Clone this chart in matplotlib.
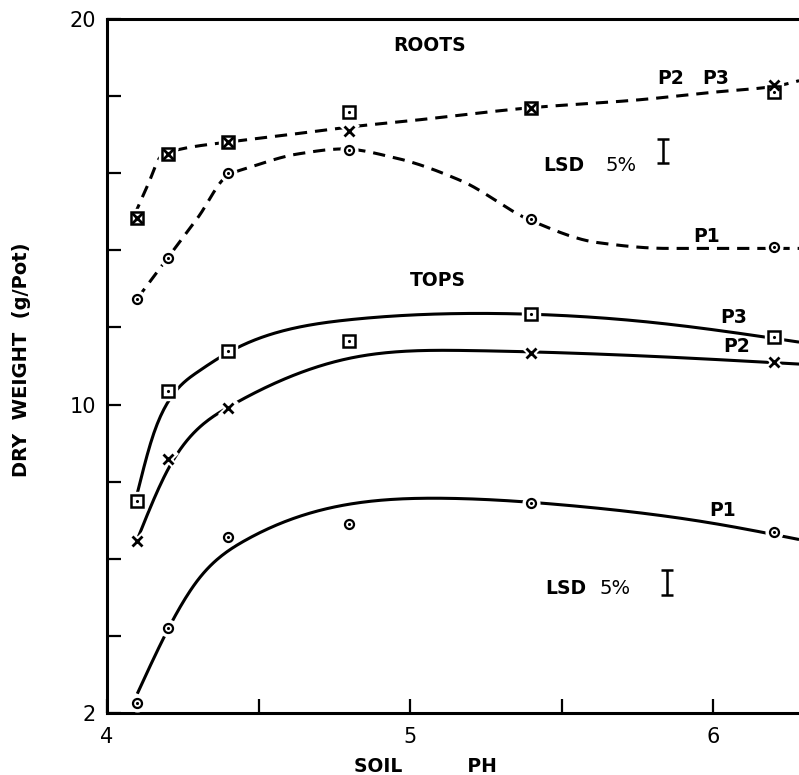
import numpy as np
import matplotlib
matplotlib.use('Agg')
import matplotlib.pyplot as plt

# soil pH of the pots
ph = [4.1, 4.2, 4.4, 4.8, 5.4, 6.2]

# dry weight (g/pot)
roots_p1 = [12.75, 13.8, 16.0, 16.6, 14.8, 14.08]
roots_p2 = [14.85, 16.5, 16.8, 17.1, 17.7, 18.3]
roots_p3 = [14.85, 16.5, 16.8, 17.6, 17.7, 18.1]
tops_p1 = [2.26, 4.2, 6.56, 6.9, 7.45, 6.7]
tops_p2 = [6.45, 8.6, 9.9, np.nan, 11.35, 11.1]
tops_p3 = [7.5, 10.35, 11.4, 11.65, 12.35, 11.74]

# hand drawn trend curves (knots)
roots_hi_x = [4.09, 4.135, 4.18, 4.24, 4.4, 4.6, 4.8, 5.0, 5.4, 5.75, 6.0, 6.2, 6.284]
roots_hi_y = [14.9, 15.7, 16.45, 16.62, 16.81, 17.0, 17.2, 17.36, 17.7, 17.9, 18.1, 18.25, 18.4]
roots_p1_x = [4.1, 4.2, 4.3, 4.4, 4.47, 4.63, 4.78, 4.95, 5.17, 5.4, 5.62, 5.85, 6.2, 6.284]
roots_p1_y = [12.75, 13.8, 14.85, 15.95, 16.15, 16.5, 16.63, 16.4, 15.8, 14.77, 14.2, 14.05, 14.05, 14.05]
tops_p3_x = [4.1, 4.15, 4.2, 4.3, 4.4, 4.6, 4.8, 5.3, 5.8, 6.284]
tops_p3_y = [7.7, 9.15, 10.05, 10.85, 11.35, 11.95, 12.2, 12.36, 12.13, 11.62]
tops_p2_x = [4.1, 4.2, 4.4, 4.8, 5.2, 5.8, 6.284]
tops_p2_y = [6.5, 8.3, 9.93, 11.2, 11.4, 11.25, 11.05]
tops_p1_x = [4.1, 4.2, 4.3, 4.45, 4.7, 5.1, 5.5, 6.0, 6.284]
tops_p1_y = [2.5, 4.15, 5.45, 6.45, 7.25, 7.57, 7.4, 6.92, 6.5]

# least significant differences (5%)
lsd_roots = 0.62
lsd_tops = 0.65


def pchip(x, y, xn):
    # monotone cubic through the knots, keeps the sharp bends
    x = np.asarray(x, float)
    y = np.asarray(y, float)
    h = np.diff(x)
    dl = np.diff(y) / h
    n = len(x)
    d = np.zeros(n)
    for k in range(1, n - 1):
        if dl[k - 1] * dl[k] > 0:
            w1 = 2 * h[k] + h[k - 1]
            w2 = h[k] + 2 * h[k - 1]
            d[k] = (w1 + w2) / (w1 / dl[k - 1] + w2 / dl[k])
    for i, (a, b, ha, hb) in enumerate([(dl[0], dl[1], h[0], h[1]), (dl[-1], dl[-2], h[-1], h[-2])]):
        e = ((2 * ha + hb) * a - ha * b) / (ha + hb)
        if np.sign(e) != np.sign(a):
            e = 0.0
        elif np.sign(a) != np.sign(b) and abs(e) > abs(3 * a):
            e = 3 * a
        d[0 if i == 0 else -1] = e
    idx = np.clip(np.searchsorted(x, xn) - 1, 0, n - 2)
    t = (xn - x[idx]) / h[idx]
    h00 = 2 * t**3 - 3 * t**2 + 1
    h10 = t**3 - 2 * t**2 + t
    h01 = -2 * t**3 + 3 * t**2
    h11 = t**3 - t**2
    return h00 * y[idx] + h10 * h[idx] * d[idx] + h01 * y[idx + 1] + h11 * h[idx] * d[idx + 1]


def spline(x, y, xn):
    # natural cubic spline, smoother for the tops curves
    x = np.asarray(x, float)
    y = np.asarray(y, float)
    n = len(x)
    h = np.diff(x)
    A = np.zeros((n, n))
    r = np.zeros(n)
    A[0, 0] = 1
    A[-1, -1] = 1
    for i in range(1, n - 1):
        A[i, i - 1] = h[i - 1]
        A[i, i] = 2 * (h[i - 1] + h[i])
        A[i, i + 1] = h[i]
        r[i] = 3 * ((y[i + 1] - y[i]) / h[i] - (y[i] - y[i - 1]) / h[i - 1])
    c = np.linalg.solve(A, r)
    b = (y[1:] - y[:-1]) / h - h * (2 * c[:-1] + c[1:]) / 3
    d = (c[1:] - c[:-1]) / (3 * h)
    idx = np.clip(np.searchsorted(x, xn) - 1, 0, n - 2)
    dx = xn - x[idx]
    return y[idx] + b[idx] * dx + c[idx] * dx**2 + d[idx] * dx**3


def curve(ax, kx, ky, ls, fn):
    xn = np.linspace(kx[0], kx[-1], 400)
    ax.plot(xn, fn(kx, ky, xn), color='black', lw=2.2, ls=ls, zorder=2,
            solid_capstyle='butt', dash_capstyle='butt', clip_on=False)


def marks(ax, x, y, kind):
    if kind == 'o':
        ax.plot(x, y, 'o', ms=12, color='white', mec='white', ls='none', zorder=3)
        ax.plot(x, y, 'o', ms=6.5, mfc='white', mec='black', mew=1.6, ls='none', zorder=4)
        ax.plot(x, y, '.', ms=2.5, color='black', ls='none', zorder=5)
    elif kind == 's':
        ax.plot(x, y, 's', ms=13, color='white', mec='white', ls='none', zorder=3)
        ax.plot(x, y, 's', ms=8, mfc='white', mec='black', mew=1.8, ls='none', zorder=4)
        ax.plot(x, y, '.', ms=2.5, color='black', ls='none', zorder=5)
    else:
        ax.plot(x, y, 'x', ms=11, color='white', mew=5, ls='none', zorder=3)
        ax.plot(x, y, 'x', ms=7, color='black', mew=2.0, ls='none', zorder=5.5)


fig = plt.figure(figsize=(7.99, 7.75), dpi=100)
ax = fig.add_axes([107 / 799, 62 / 775, 692 / 799, 694 / 775])
ax.set_xlim(4, 4 + 692 / 303)
ax.set_ylim(2, 20)

dash = (0, (4, 2.6))
curve(ax, roots_hi_x, roots_hi_y, dash, pchip)
curve(ax, roots_p1_x, roots_p1_y, dash, pchip)
curve(ax, tops_p3_x, tops_p3_y, '-', spline)
curve(ax, tops_p2_x, tops_p2_y, '-', spline)
curve(ax, tops_p1_x, tops_p1_y, '-', spline)

marks(ax, ph, roots_p1, 'o')
marks(ax, ph, roots_p3, 's')
marks(ax, ph, roots_p2, 'x')
marks(ax, ph, tops_p1, 'o')
marks(ax, ph, tops_p3, 's')
marks(ax, ph, tops_p2, 'x')

# LSD bars
ax.errorbar([5.835], [16.57], yerr=[lsd_roots / 2], fmt='none', ecolor='black',
            elinewidth=1.8, capsize=4.5, capthick=1.8)
ax.errorbar([5.848], [5.38], yerr=[lsd_tops / 2], fmt='none', ecolor='black',
            elinewidth=1.8, capsize=4.5, capthick=1.8)

bold = dict(fontsize=13.5, fontweight='bold', color='black')
ax.text(5.063, 19.3, 'ROOTS', ha='center', va='center', **bold)
ax.text(5.092, 13.23, 'TOPS', ha='center', va='center', **bold)
ax.text(5.439, 16.21, 'LSD', ha='left', va='center', **bold)
ax.text(5.644, 16.21, '5%', ha='left', va='center', fontsize=14)
ax.text(5.446, 5.24, 'LSD', ha='left', va='center', **bold)
ax.text(5.627, 5.24, '5%', ha='left', va='center', fontsize=14)

ax.text(5.861, 18.45, 'P2', ha='center', va='center', **bold)
ax.text(6.01, 18.45, 'P3', ha='center', va='center', **bold)
ax.text(5.98, 14.35, 'P1', ha='center', va='center', **bold)
ax.text(6.069, 12.27, 'P3', ha='center', va='center', **bold)
ax.text(6.079, 11.5, 'P2', ha='center', va='center', **bold)
ax.text(6.033, 7.24, 'P1', ha='center', va='center', **bold)

for s in ['top', 'left', 'bottom']:
    ax.spines[s].set_linewidth(2.2)
ax.spines['right'].set_visible(False)

ax.set_xticks([4, 4.5, 5, 5.5, 6])
ax.set_xticklabels(['4', '', '5', '', '6'])
ax.set_yticks([2, 4, 6, 8, 10, 12, 14, 16, 18, 20])
ax.set_yticklabels(['2', '', '', '', '10', '', '', '', '', '20'])
ax.tick_params(direction='in', length=10, width=1.6, labelsize=15, pad=8)
ax.tick_params(axis='x', pad=10)
ax.tick_params(top=False, right=False)

ax.set_xlabel('SOIL          PH', fontsize=13.5, fontweight='bold')
ax.xaxis.set_label_coords(0.46, -0.063)
ax.set_ylabel('DRY  WEIGHT  (g/Pot)', fontsize=14, fontweight='bold')
ax.yaxis.set_label_coords(-0.11, 0.509)

fig.savefig('out.png', dpi=100)
